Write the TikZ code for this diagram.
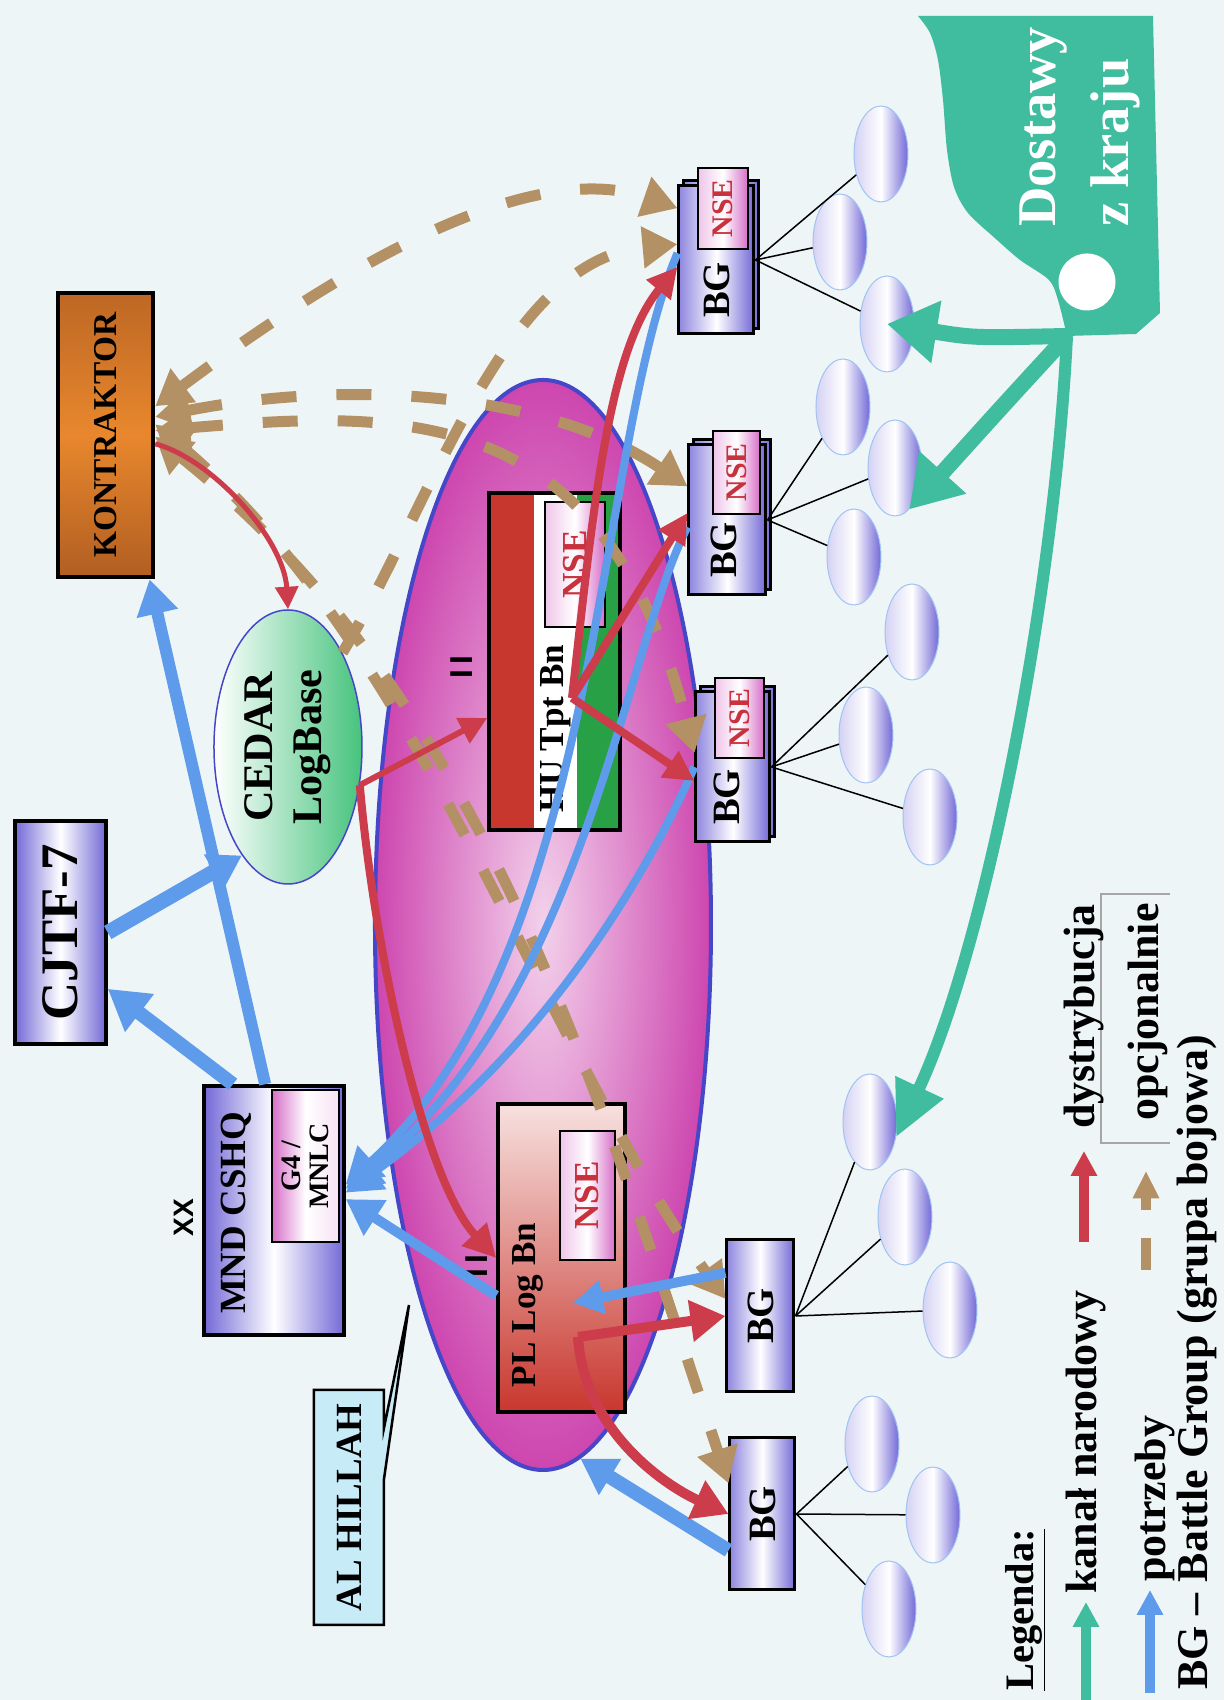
\documentclass[tikz,border=0pt]{standalone}
\usepackage{fontspec}
\setmainfont{Liberation Serif}
\setsansfont{Liberation Sans}
\usetikzlibrary{arrows.meta,shapes.geometric}

\definecolor{tlo}{RGB}{238,245,247}
\definecolor{morski}{RGB}{64,188,158}
\definecolor{niebieski}{RGB}{95,155,235}
\definecolor{czerwony}{RGB}{205,60,75}
\definecolor{brazowy}{RGB}{180,145,100}
\definecolor{fiolet}{RGB}{115,105,215}
\definecolor{roz}{RGB}{215,110,200}
\definecolor{amarant}{RGB}{205,70,175}
\definecolor{obwod}{RGB}{70,70,200}
\definecolor{pomarancz}{RGB}{232,135,45}
\definecolor{braz}{RGB}{110,45,20}
\definecolor{zielony}{RGB}{70,195,125}
\definecolor{zielen}{RGB}{40,160,70}
\definecolor{czerw}{RGB}{200,55,45}
\definecolor{nsetxt}{RGB}{200,50,60}
\definecolor{blekit}{RGB}{200,235,248}

\newcommand{\czc}[2]{\fontsize{#1}{#2}\selectfont\bfseries}

\begin{document}
\begin{tikzpicture}[rotate=90, transform shape, x=0.2mm, y=0.2mm,
    ramka/.style={draw=black, line width=0.7mm, rectangle},
    bgbox/.style={ramka, line width=0.6mm, left color=fiolet!80!white, right color=fiolet, middle color=white},
    nsebox/.style={ramka, line width=0.5mm, left color=roz!40!white, right color=roz, middle color=white, text=nsetxt},
    jedn/.style={ellipse, draw=niebieski!60!white, line width=0.2mm, minimum width=19.2mm,
        minimum height=10.8mm, left color=fiolet!30!white, right color=fiolet, middle color=white},
    opcja/.style={brazowy, line width=2.2mm, dash pattern=on 7mm off 8mm, >={Triangle[width=8mm,length=7mm]}},
    potrz/.style={niebieski, >={Triangle[width=8mm,length=7mm]}},
    dystr/.style={czerwony, >={Triangle[width=6mm,length=6mm]}},
    kanal/.style={morski, >={Triangle[width=12mm,length=10mm]}}]

    % Tło
    \fill[tlo] (0,0) rectangle (1700,1224);
    \useasboundingbox (0,0) rectangle (1700,1224);

    % Rejon
    \node[ellipse, draw=obwod, line width=0.8mm, minimum width=218mm, minimum height=67.2mm,
        inner color=white!75!amarant, outer color=amarant] (rejon) at (775,681) {};
    \draw[line width=0.5mm, fill=blekit] (75,840) -- (221,840) -- (395,815) -- (272,840)
        -- (310,840) -- (310,910) -- (75,910) -- cycle;
    \node (hillah) at (192.5,875) {\czc{21pt}{24pt}AL HILLAH};

    % Dowództwa
    \node[ramka, line width=0.9mm, minimum width=56.8mm, minimum height=19mm,
        top color=braz!35!pomarancz, bottom color=braz!45!pomarancz, middle color=pomarancz] (kon) at (1265,1118.5) {\czc{19pt}{21pt}KONTRAKTOR};
    \node[ramka, minimum width=44.6mm, minimum height=18.2mm, left color=fiolet, right color=fiolet, middle color=white] (cjtf) at (767.5,1163.5) {\czc{30pt}{32pt}CJTF-7};
    \node[ramka, minimum width=49.8mm, minimum height=28mm, left color=fiolet, right color=fiolet, middle color=white] (mnd) at (489.5,950) {};
    \node (mndtxt) at (487,988) {\czc{21pt}{24pt}MND CSHQ};
    \node[ramka, line width=0.5mm, minimum width=30.4mm, minimum height=13.4mm, inner sep=1pt, align=center,
        left color=roz, right color=white!80!roz, middle color=white, font={\czc{16pt}{16pt}}] (g4) at (534,918.5) {G4 /\\MNLC};
    \node (xx) at (482,1040) {\sffamily\czc{16pt}{18pt}XX};

    % CEDAR
    \node[ellipse, draw=obwod, line width=0.3mm, minimum width=54.8mm, minimum height=29.6mm, inner sep=0pt,
        align=center, left color=white, right color=zielony, font={\czc{24pt}{28pt}}] (cedar) at (953,936) {CEDAR\\LogBase};

    % HU Tpt Bn
    \fill[white] (870,604) rectangle (1207,735);
    \fill[czerw] (870,690) rectangle (1207,735);
    \fill[zielen] (870,604) rectangle (1207,647);
    \node[ramka, minimum width=67.4mm, minimum height=26.2mm] (hu) at (1038.5,669.5) {};
    \node[anchor=west, inner sep=0pt] (hutxt) at (887,668) {\czc{20pt}{22pt}HU Tpt Bn};
    \node[nsebox, minimum width=25mm, minimum height=12mm] (nsehu) at (1135.5,649) {\czc{20pt}{22pt}NSE};
    \node (huII) at (1033,762) {\sffamily\czc{18pt}{20pt}I\kern3pt I};

    % PL Log Bn
    \node[ramka, minimum width=61.6mm, minimum height=25.4mm, top color=white!85!czerw, bottom color=czerw] (pl) at (442,662.5) {};
    \node (pltxt) at (395,696) {\czc{20pt}{22pt}PL Log Bn};
    \node[nsebox, minimum width=25.8mm, minimum height=11mm] (nsepl) at (504.5,636.5) {\czc{20pt}{22pt}NSE};
    \node (plII) at (434,747) {\sffamily\czc{18pt}{20pt}I\kern3pt I};

    % Grupy bojowe
    \node[bgbox, minimum width=29.6mm, minimum height=15mm] (bg1t) at (1445,502.5) {};
    \node[bgbox, minimum width=29.6mm, minimum height=15mm] (bg1) at (1440,507.5) {};
    \node[nsebox, minimum width=16.2mm, minimum height=10mm] (nse1) at (1491.5,501) {\czc{17pt}{18pt}NSE};
    \node (bg1txt) at (1410,507) {\czc{22pt}{24pt}BG};
    \node[bgbox, minimum width=30mm, minimum height=15.4mm] (bg2t) at (1185,491.5) {};
    \node[bgbox, minimum width=30mm, minimum height=15.4mm] (bg2) at (1180,496.5) {};
    \node[nsebox, minimum width=16.6mm, minimum height=9.4mm] (nse2) at (1227.5,487.5) {\czc{17pt}{18pt}NSE};
    \node (bg2txt) at (1150,500) {\czc{22pt}{24pt}BG};
    \node[bgbox, minimum width=30mm, minimum height=14.8mm] (bg3t) at (938,486) {};
    \node[bgbox, minimum width=30mm, minimum height=14.8mm] (bg3) at (933,491) {};
    \node[nsebox, minimum width=16mm, minimum height=9.8mm] (nse3) at (982,484.5) {\czc{17pt}{18pt}NSE};
    \node (bg3txt) at (903,497) {\czc{22pt}{24pt}BG};
    \node[bgbox, minimum width=30.4mm, minimum height=13.4mm] (bg4) at (384,463.5) {\czc{22pt}{24pt}BG};
    \node[bgbox, minimum width=30.4mm, minimum height=13mm] (bg5) at (186,461.5) {\czc{22pt}{24pt}BG};

    % Pododdziały
    \foreach \n/\u/\v in {e1/1546/343, e2/1458/384, e3/1376/337, e4/1293/381, e5/1232/329,
        e6/1143/370, e7/1068/312, e8/965/358, e9/883/294, e10/578/354, e11/483/319,
        e12/390/274, e13/256/352, e14/185/291, e15/91/335}
        \node[jedn] (\n) at (\u,\v) {};
    \foreach \skad/\dokad in {bg1/e1, bg1/e2, bg1/e3, bg2/e4, bg2/e5, bg2/e6, bg3/e7, bg3/e8,
        bg3/e9, bg4/e10, bg4/e11, bg4/e12, bg5/e13, bg5/e14, bg5/e15}
        \draw[line width=0.3mm] (\skad.south) -- (\dokad);

    % Dostawy z kraju
    \fill[morski] (1684,306) -- (1684,71) -- (1387,64) -- (1366,88) -- (1364,157)
        -- plot[smooth] coordinates {(1364,157) (1400,166) (1420,175) (1440,204) (1460,227)
        (1487,256) (1513,270) (1550,277) (1600,281) (1640,286) (1667,294) (1684,306)} -- cycle;
    \node[circle, fill=white, minimum size=11.4mm, inner sep=0pt] (zrodlo) at (1418,137) {};
    \node[anchor=base west, inner sep=0pt, text=white] (dost1) at (1473,169) {\czc{31pt}{33pt}Dostawy};
    \node[anchor=base west, inner sep=0pt, text=white] (dost2) at (1473,96) {\czc{31pt}{33pt}z kraju};
    \coordinate (zr) at (1364,157);

    % Opcjonalnie
    \draw[opcja, <->] (kon.-60) .. controls (1420,900) and (1545,700) .. (bg1.37);
    \draw[opcja, ->] (cedar.-30) .. controls (1200,790) and (1440,720) .. (bg1.68);
    \draw[opcja, <->] (kon.-70) .. controls (1320,880) and (1310,680) .. (bg2.50);
    \draw[opcja, <->] (kon.-85) .. controls (1290,820) and (1300,620) .. (bg3.70);
    \draw[opcja, <->] (kon.-78) .. controls (1050,800) and (650,680) .. (bg4.64);
    \draw[opcja, <->] (kon.-92) .. controls (1000,740) and (620,630) .. (bg5.48);

    % Potrzeby
    \coordinate (plin) at (397,651);
    \draw[potrz, line width=2.8mm, >={Triangle[width=9mm,length=8mm]}, ->] (mnd.18) -- (cjtf.220);
    \draw[potrz, line width=2.4mm, ->] (mnd.4) -- (kon.197);
    \draw[potrz, line width=3mm, >={Triangle[width=7.5mm,length=6.5mm]}, ->] (cjtf.south) -- (cedar.157);
    \draw[potrz, line width=2mm, ->] (pl.120) -- (mnd.-81);
    \draw[potrz, line width=1.6mm, ->] (bg1.80) .. controls (1250,630) and (750,620) .. (mnd.-70);
    \draw[potrz, line width=1.6mm, ->] (bg2.100) .. controls (1050,600) and (700,640) .. (mnd.-73);
    \draw[potrz, line width=1.6mm, ->] (bg3.north) .. controls (820,580) and (650,680) .. (mnd.-76);
    \draw[potrz, line width=2mm, >={Triangle[width=6.5mm,length=6mm]}, ->] (bg4.39) -- (plin);
    \draw[potrz, line width=2.8mm, ->] (bg5.137) -- (rejon.184);

    % Dystrybucja
    \coordinate (huhub) at (1002,652);
    \coordinate (plhub) at (363,646);
    \draw[dystr, line width=1mm, >={Triangle[width=4.5mm,length=4.5mm]}, ->] (kon.-100) .. controls (1240,1010) and (1160,940) .. (cedar.east);
    \draw[dystr, line width=1.2mm, >={Triangle[width=5.5mm,length=5.5mm]}, ->] (cedar.-118) -- (hu.130);
    \draw[dystr, line width=1.6mm, >={Triangle[width=6.5mm,length=6.5mm]}, ->] (cedar.-118) .. controls (750,850) and (520,800) .. (pl.north);
    \draw[dystr, line width=1.6mm, ->] (huhub) .. controls (1200,630) and (1350,615) .. (bg1.100);
    \draw[dystr, line width=1.6mm, ->] (huhub) -- (bg2.80);
    \draw[dystr, line width=1.6mm, ->] (huhub) -- (bg3.110);
    \draw[dystr, line width=2mm, >={Triangle[width=8mm,length=7mm]}, ->] (plhub) -- (bg4.north);
    \draw[dystr, line width=2mm, >={Triangle[width=8mm,length=7mm]}, ->] (plhub) .. controls (270,640) and (215,560) .. (bg5.north);

    % Kanał narodowy
    \draw[kanal, line width=3.2mm, ->] (zr) .. controls (1362,250) .. (e3.center);
    \draw[kanal, line width=3.2mm, ->] (zr) .. controls (1290,225) .. (e5.199);
    \draw[kanal, line width=2.4mm, >={Triangle[width=10mm,length=11mm]}, ->] (zr) .. controls (1100,170) and (750,240) .. (e10.240);

    % Legenda
    \coordinate (lk1) at (0,138);   \coordinate (lk2) at (98,138);
    \coordinate (ld1) at (458,140); \coordinate (ld2) at (549,140);
    \coordinate (lp1) at (7,74);    \coordinate (lp2) at (110,74);
    \coordinate (lo1) at (430,78);  \coordinate (lo2) at (529,78);
    \draw[kanal, line width=2mm, >={Triangle[width=5mm,length=5mm]}, ->] (lk1) -- (lk2);
    \draw[dystr, line width=2mm, >={Triangle[width=5mm,length=5mm]}, ->] (ld1) -- (ld2);
    \draw[potrz, line width=2mm, >={Triangle[width=5mm,length=5mm]}, ->] (lp1) -- (lp2);
    \draw[opcja, line width=2mm, dash pattern=on 6.4mm off 5.6mm, >={Triangle[width=5mm,length=5.5mm]}, ->] (lo1) -- (lo2);
    \draw[gray!70, line width=0.25mm] (557,54) -- (557,123) -- (806,123) -- (806,54);
    \node[anchor=base west, inner sep=0pt] (leg) at (9,191) {\czc{23pt}{25pt}\underline{Legenda:}};
    \node[anchor=base west, inner sep=0pt] (lkan) at (106,128) {\czc{25pt}{27pt}kanał narodowy};
    \node[anchor=base west, inner sep=0pt] (ldys) at (571,130) {\czc{25pt}{27pt}dystrybucja};
    \node[anchor=base west, inner sep=0pt] (lpot) at (118,59) {\czc{25pt}{27pt}potrzeby};
    \node[anchor=base west, inner sep=0pt] (lopc) at (579,66) {\czc{25pt}{27pt}opcjonalnie};
    \node[anchor=base west, inner sep=0pt] (lbg) at (10,17) {\czc{25pt}{27pt}BG – Battle Group (grupa bojowa)};
\end{tikzpicture}
\end{document}
